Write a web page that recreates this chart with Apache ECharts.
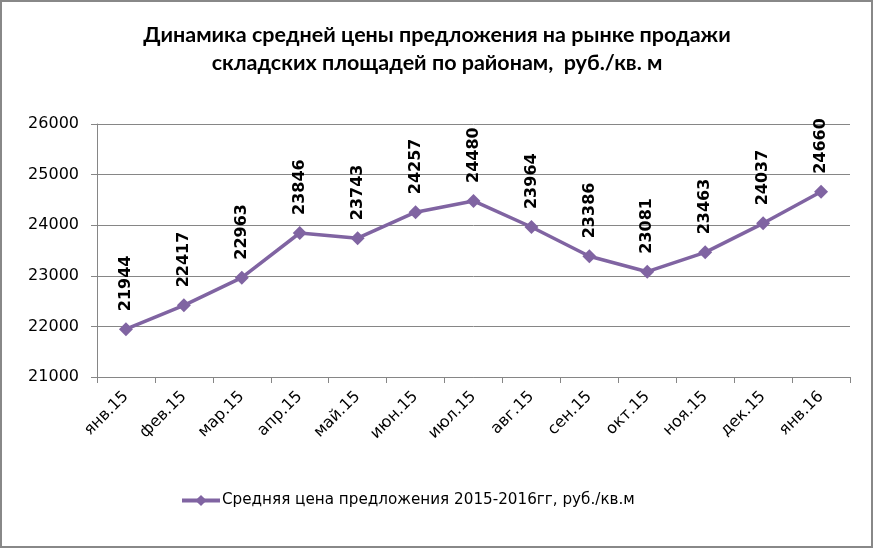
<!DOCTYPE html>
<html><head><meta charset="utf-8">
<script src="https://cdn.jsdelivr.net/npm/echarts@6/dist/echarts.min.js"></script>
<style>html,body{margin:0;padding:0;background:#fff}#c{width:874px;height:549px}</style>
</head><body><div id="c"></div>
<script>
const categories = ['янв.15','фев.15','мар.15','апр.15','май.15','июн.15','июл.15','авг.15','сен.15','окт.15','ноя.15','дек.15','янв.16'];
const values = [21944,22417,22963,23846,23743,24257,24480,23964,23386,23081,23463,24037,24660];
const seriesName = 'Средняя цена предложения 2015-2016гг, руб./кв.м';
const titleText = 'Динамика средней цены предложения на рынке продажи\nскладских площадей по районам,  руб./кв. м';

const chart = echarts.init(document.getElementById('c'), null, {renderer:'canvas'});
chart.setOption({
  animation:false,
  backgroundColor:'#fff',
  graphic:[{type:'rect',shape:{x:1,y:1,width:871,height:546},style:{fill:'none',stroke:'#888',lineWidth:2},silent:true}],
  title:{text:titleText,left:'center',top:16,textStyle:{fontFamily:'Lato',fontWeight:'bold',fontSize:21.5,color:'#000',lineHeight:28}},
  grid:{left:97,right:24,top:124,bottom:172,containLabel:false},
  legend:{left:175,top:488,itemWidth:38,itemHeight:14,itemGap:5,
    lineStyle:{width:4},
    textStyle:{fontFamily:'DejaVu Sans',fontSize:15.2,color:'#000',padding:[0,0,0,-3]},data:[seriesName]},
  xAxis:{type:'category',data:categories,boundaryGap:true,
    axisLine:{lineStyle:{color:'#868686',width:1}},
    axisTick:{show:true,length:6,lineStyle:{color:'#868686'}},
    axisLabel:{rotate:45,margin:17,fontFamily:'DejaVu Sans',fontSize:16,color:'#000'}},
  yAxis:{type:'value',min:21000,max:26000,interval:1000,
    axisLine:{show:true,lineStyle:{color:'#868686',width:1}},
    axisTick:{show:true,length:6,lineStyle:{color:'#868686'}},
    splitLine:{lineStyle:{color:'#868686',width:1}},
    axisLabel:{margin:18,fontFamily:'DejaVu Sans',fontSize:16,color:'#000',formatter:v=>String(v)}},
  series:[{type:'line',name:seriesName,data:values,symbol:'diamond',symbolSize:14,
    lineStyle:{color:'#8064A2',width:3.5},itemStyle:{color:'#8064A2'},
    label:{show:true,position:'top',rotate:90,align:'left',verticalAlign:'middle',distance:11,
      fontFamily:'DejaVu Sans',fontWeight:'bold',fontSize:16,color:'#000'}}]
});
</script></body></html>
